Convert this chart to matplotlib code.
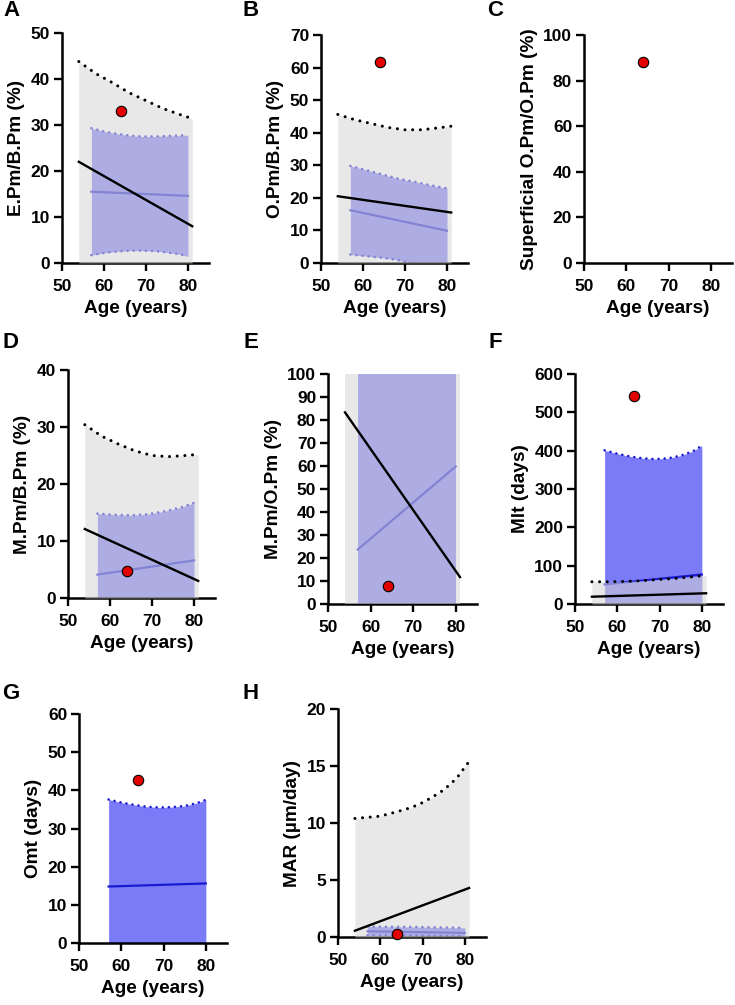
import matplotlib
matplotlib.use("Agg")
import matplotlib.pyplot as plt

plt.rcParams['font.family'] = ['Liberation Sans', 'DejaVu Sans']
plt.rcParams['font.weight'] = 'bold'

# ---------------- data ----------------
age_ticks = [50, 60, 70, 80]
x_label = "Age (years)"

# A: E.Pm/B.Pm
a_gray_x = [54, 58, 62, 66, 70, 74, 78, 81]
a_gray_hi = [43.8, 41.2, 39.2, 37.0, 35.3, 33.6, 32.3, 31.4]
a_black_x = [54, 81]
a_black_y = [22.0, 8.0]
a_blue_x = [57, 60, 63, 66, 69, 72, 75, 78, 80]
a_blue_hi = [29.3, 28.6, 28.1, 27.7, 27.5, 27.5, 27.6, 27.7, 27.8]
a_blue_lo = [1.7, 2.2, 2.5, 2.7, 2.7, 2.6, 2.3, 1.9, 1.4]
a_blue_line_x = [57, 80]
a_blue_line_y = [15.5, 14.6]
a_point = (64, 33.0)

# B: O.Pm/B.Pm
b_gray_x = [54, 58, 62, 66, 70, 74, 78, 81]
b_gray_hi = [45.6, 44.0, 42.8, 41.6, 40.9, 40.9, 41.5, 42.0]
b_black_x = [54, 81]
b_black_y = [20.5, 15.5]
b_blue_x = [57, 60, 64, 68, 72, 76, 80]
b_blue_hi = [29.8, 28.8, 27.4, 26.0, 25.0, 23.9, 22.9]
b_blue_lo = [2.6, 2.2, 1.7, 1.0, -0.2, -1.3, -2.6]
b_blue_line_x = [57, 80]
b_blue_line_y = [16.2, 9.9]
b_point = (64, 61.7)

# C: Superficial O.Pm/O.Pm
c_point = (64, 88.0)

# D: M.Pm/B.Pm
d_gray_x = [54, 58, 62, 66, 70, 74, 78, 81]
d_gray_hi = [30.4, 28.4, 27.0, 25.8, 25.0, 24.8, 25.0, 25.2]
d_black_x = [54, 81]
d_black_y = [12.1, 3.0]
d_blue_x = [57, 61, 65, 69, 73, 77, 80]
d_blue_hi = [14.8, 14.6, 14.5, 14.7, 15.2, 15.9, 16.7]
d_blue_line_x = [57, 80]
d_blue_line_y = [4.1, 6.6]
d_point = (64, 4.8)

# E: M.Pm/O.Pm
e_gray_x = [54, 81]
e_gray_hi = [100, 100]
e_black_x = [54, 81]
e_black_y = [83.3, 11.7]
e_blue_x = [57, 80]
e_blue_hi = [100, 100]
e_blue_line_x = [57, 80]
e_blue_line_y = [23.7, 59.8]
e_point = (64, 7.8)

# F: Mlt
f_gray_x = [54, 58, 62, 66, 70, 74, 78, 81]
f_gray_hi = [58, 58, 59, 61, 64, 67, 71, 75]
f_black_x = [54, 81]
f_black_y = [19, 28]
f_blue_x = [57, 60, 63, 66, 69, 72, 75, 78, 80]
f_blue_hi = [401, 392, 385, 380, 378, 380, 387, 399, 413]
f_blue_line_x = [57, 80]
f_blue_line_y = [51, 77]
f_point = (64, 543)

# G: Omt
g_blue_x = [57, 60, 63, 66, 69, 72, 75, 78, 80]
g_blue_hi = [37.6, 36.8, 36.2, 35.7, 35.5, 35.6, 35.9, 36.7, 37.5]
g_blue_line_x = [57, 80]
g_blue_line_y = [14.8, 15.6]
g_point = (64, 42.6)

# H: MAR
h_gray_x = [54, 57, 60, 63, 66, 69, 72, 75, 78, 81]
h_gray_hi = [10.4, 10.5, 10.6, 10.9, 11.2, 11.6, 12.2, 12.9, 13.9, 15.4]
h_black_x = [54, 81]
h_black_y = [0.55, 4.3]
h_blue_x = [57, 62, 67, 72, 77, 80]
h_blue_hi = [0.92, 0.90, 0.88, 0.85, 0.82, 0.80]
h_blue_lo = [0.15, 0.14, 0.12, 0.10, 0.08, 0.06]
h_blue_line_x = [57, 80]
h_blue_line_y = [0.5, 0.36]
h_point = (64, 0.3)

# ---------------- styling ----------------
W, H = 735, 1005
BLUE_FILL = '#7b7bf8'
BLUE_LINE = '#1a1ad0'
GRAY_FILL = '#d6d6d6'
GRAY_ALPHA = 0.56
RED = '#e30000'


def rect(l, r, t, b):
    return [l / W, 1 - b / H, (r - l) / W, (b - t) / H]


fig = plt.figure(figsize=(W / 100, H / 100), dpi=100)


def make_ax(r, ylabel, yticks, letter, letter_xy):
    ax = fig.add_axes(rect(*r))
    ax.set_xlim(50, 85)
    ax.set_ylim(yticks[0], yticks[-1])
    ax.set_xticks(age_ticks)
    ax.set_yticks(yticks)
    for s in ['top', 'right']:
        ax.spines[s].set_visible(False)
    for s in ['left', 'bottom']:
        ax.spines[s].set_linewidth(1.8)
    ax.tick_params(width=1.7, length=6, labelsize=12.5, pad=2.5)
    ax.tick_params(axis='x', pad=5.5)
    for lab in ax.get_xticklabels() + ax.get_yticklabels():
        lab.set_fontweight('bold')
    ax.set_xlabel(x_label, fontsize=13.7, fontweight='bold', labelpad=4)
    ax.set_ylabel(ylabel, fontsize=13.7, fontweight='bold', labelpad=4)
    fig.text(letter_xy[0] / W, 1 - letter_xy[1] / H, letter, fontsize=16,
             fontweight='bold', ha='center', va='center')
    return ax


def dotted(ax, x, y, color, lw=1.8, z=5, gap=2.6):
    ax.plot(x, y, color=color, lw=lw, linestyle=(0, (0.01, gap)),
            dash_capstyle='round', zorder=z, clip_on=True)


def blue_band(ax, x, hi, lo=None, line_x=None, line_y=None, dot_hi=True, dot_lo=True):
    low = lo if lo is not None else [0] * len(x)
    ax.fill_between(x, low, hi, color=BLUE_FILL, lw=0, zorder=1)
    if line_x is not None:
        ax.plot(line_x, line_y, color=BLUE_LINE, lw=1.6, zorder=2)
    if dot_hi:
        dotted(ax, x, hi, BLUE_LINE, lw=1.9, z=2, gap=2.3)
    if lo is not None and dot_lo:
        dotted(ax, x, lo, BLUE_LINE, lw=1.9, z=2, gap=2.3)


def gray_band(ax, x, hi, dot=True):
    ax.fill_between(x, [0] * len(x), hi, color=GRAY_FILL, alpha=GRAY_ALPHA,
                    lw=0, zorder=3)
    if dot:
        dotted(ax, x, hi, 'black', lw=2.2, z=5, gap=2.5)


def black_line(ax, x, y):
    ax.plot(x, y, color='black', lw=1.7, zorder=6)


def point(ax, p):
    ax.plot([p[0]], [p[1]], 'o', ms=7.5, mfc=RED, mec='black', mew=0.8,
            zorder=10, clip_on=False)


# A
ax = make_ax((62, 209, 33, 263), "E.Pm/B.Pm (%)", [0, 10, 20, 30, 40, 50], "A", (11, 11))
blue_band(ax, a_blue_x, a_blue_hi, a_blue_lo, a_blue_line_x, a_blue_line_y)
gray_band(ax, a_gray_x, a_gray_hi)
black_line(ax, a_black_x, a_black_y)
point(ax, a_point)

# B
ax = make_ax((321, 468, 35, 263), "O.Pm/B.Pm (%)", [0, 10, 20, 30, 40, 50, 60, 70], "B", (251, 11))
blue_band(ax, b_blue_x, b_blue_hi, b_blue_lo, b_blue_line_x, b_blue_line_y)
gray_band(ax, b_gray_x, b_gray_hi)
black_line(ax, b_black_x, b_black_y)
point(ax, b_point)

# C
ax = make_ax((584, 732, 35, 263), "Superficial O.Pm/O.Pm (%)", [0, 20, 40, 60, 80, 100], "C", (495, 11))
point(ax, c_point)

# D
ax = make_ax((68, 215, 370, 598), "M.Pm/B.Pm (%)", [0, 10, 20, 30, 40], "D", (11, 342))
blue_band(ax, d_blue_x, d_blue_hi, None, d_blue_line_x, d_blue_line_y)
gray_band(ax, d_gray_x, d_gray_hi)
black_line(ax, d_black_x, d_black_y)
point(ax, d_point)

# E
ax = make_ax((328, 477, 374, 604), "M.Pm/O.Pm (%)", list(range(0, 101, 10)), "E", (251, 342))
blue_band(ax, e_blue_x, e_blue_hi, None, e_blue_line_x, e_blue_line_y, dot_hi=False)
gray_band(ax, e_gray_x, e_gray_hi, dot=False)
black_line(ax, e_black_x, e_black_y)
point(ax, e_point)

# F
ax = make_ax((575, 723, 374, 604), "Mlt (days)", [0, 100, 200, 300, 400, 500, 600], "F", (495, 342))
blue_band(ax, f_blue_x, f_blue_hi, None, f_blue_line_x, f_blue_line_y)
gray_band(ax, f_gray_x, f_gray_hi)
black_line(ax, f_black_x, f_black_y)
point(ax, f_point)

# G
ax = make_ax((79, 227, 714, 943), "Omt (days)", [0, 10, 20, 30, 40, 50, 60], "G", (11, 693))
blue_band(ax, g_blue_x, g_blue_hi, None, g_blue_line_x, g_blue_line_y)
point(ax, g_point)

# H
ax = make_ax((338, 486, 709, 937), "MAR (µm/day)", [0, 5, 10, 15, 20], "H", (251, 693))
blue_band(ax, h_blue_x, h_blue_hi, h_blue_lo, h_blue_line_x, h_blue_line_y)
gray_band(ax, h_gray_x, h_gray_hi)
black_line(ax, h_black_x, h_black_y)
point(ax, h_point)

fig.savefig("out.png", dpi=100)
